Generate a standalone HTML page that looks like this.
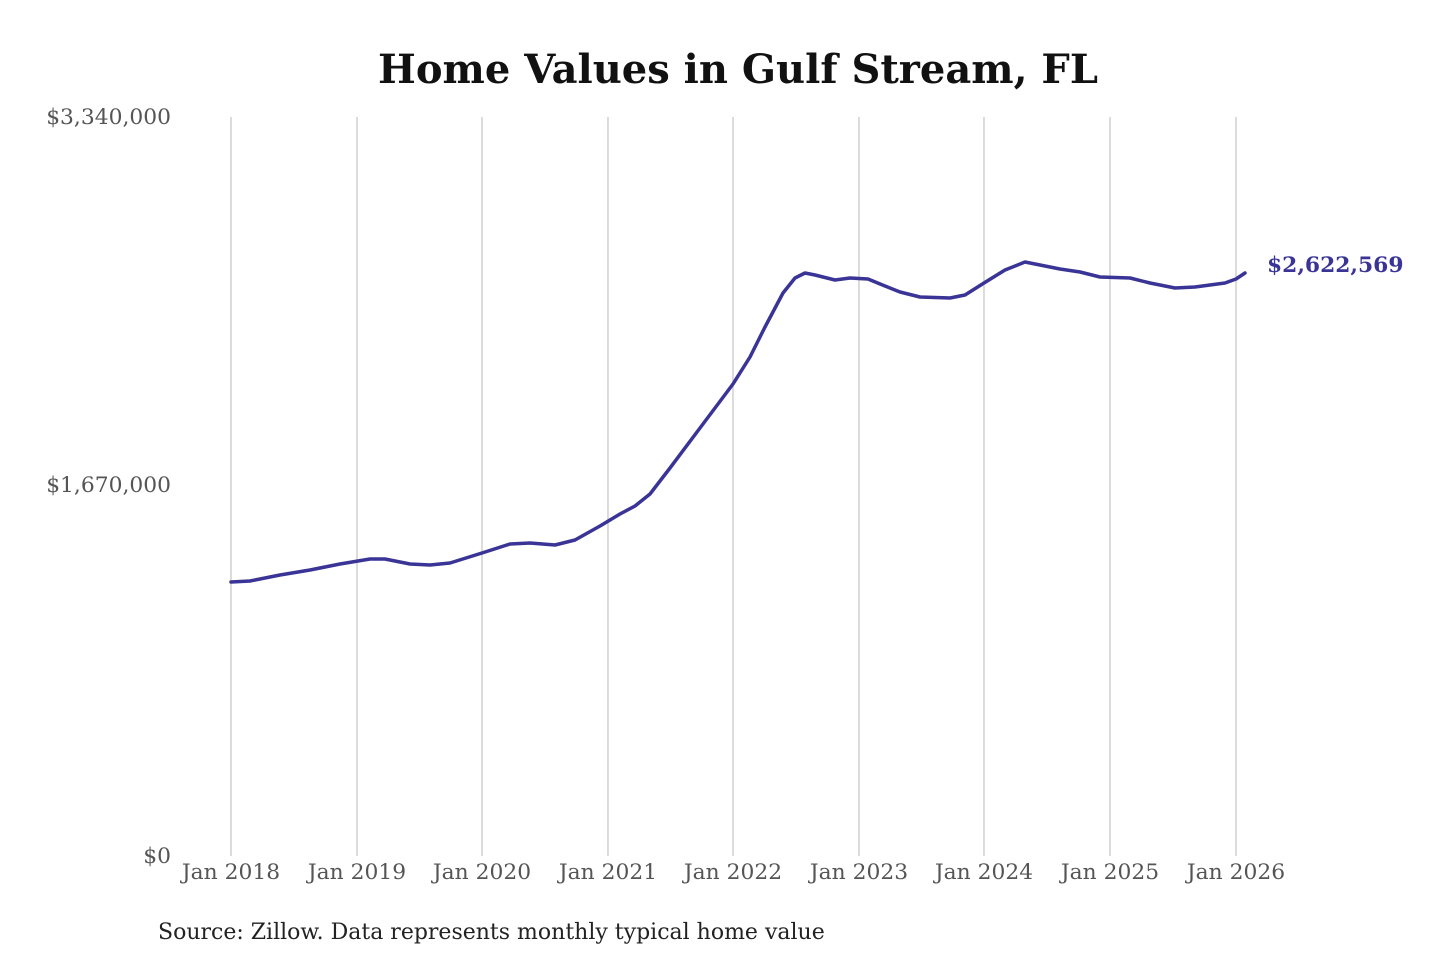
<!DOCTYPE html>
<html><head><meta charset="utf-8"><style>
html,body{margin:0;padding:0;background:#fff;width:1440px;height:960px;overflow:hidden}
svg text{font-family:"DejaVu Serif","Liberation Serif",serif}
</style></head><body>
<svg width="1440" height="960" xmlns="http://www.w3.org/2000/svg">
<text x="738" y="83" text-anchor="middle" font-size="40" font-weight="bold" fill="#111">Home Values in Gulf Stream, FL</text>
<g stroke="#c8c8c8" stroke-width="1.3">
<line x1="231" y1="117" x2="231" y2="856"/><line x1="357" y1="117" x2="357" y2="856"/>
<line x1="482" y1="117" x2="482" y2="856"/><line x1="608" y1="117" x2="608" y2="856"/>
<line x1="733" y1="117" x2="733" y2="856"/><line x1="859" y1="117" x2="859" y2="856"/>
<line x1="984" y1="117" x2="984" y2="856"/><line x1="1110" y1="117" x2="1110" y2="856"/>
<line x1="1236" y1="117" x2="1236" y2="856"/>
</g>
<g font-size="21.8" fill="#555" text-anchor="end">
<text x="171" y="124">$3,340,000</text>
<text x="171" y="492">$1,670,000</text>
<text x="171" y="863">$0</text>
</g>
<g font-size="21.8" fill="#555" text-anchor="middle">
<text x="231" y="879">Jan 2018</text><text x="357" y="879">Jan 2019</text>
<text x="482" y="879">Jan 2020</text><text x="608" y="879">Jan 2021</text>
<text x="733" y="879">Jan 2022</text><text x="859" y="879">Jan 2023</text>
<text x="984" y="879">Jan 2024</text><text x="1110" y="879">Jan 2025</text>
<text x="1236" y="879">Jan 2026</text>
</g>
<polyline fill="none" stroke="#3a3497" stroke-width="3.5" stroke-linejoin="round" stroke-linecap="round" points="231,582 250,581 280,575 310,570 340,564 370,559 385,559 410,564 430,565 450,563 482,553 510,544 530,543 555,545 575,540 600,526 620,514 635,506 650,494 670,468 700,428 733,384 750,357 765,327 783,293 795,278 805,273 815,275 835,280 850,278 868,279 885,286 900,292 920,297 950,298 965,295 984,283 1005,270 1025,262 1045,266 1060,269 1080,272 1100,277 1130,278 1150,283 1175,288 1195,287 1225,283 1236,279 1245,273"/>
<text x="1267" y="272" font-size="21.8" font-weight="bold" fill="#3a3497">$2,622,569</text>
<text x="158" y="939" font-size="22" fill="#222">Source: Zillow. Data represents monthly typical home value</text>
</svg>
</body></html>
